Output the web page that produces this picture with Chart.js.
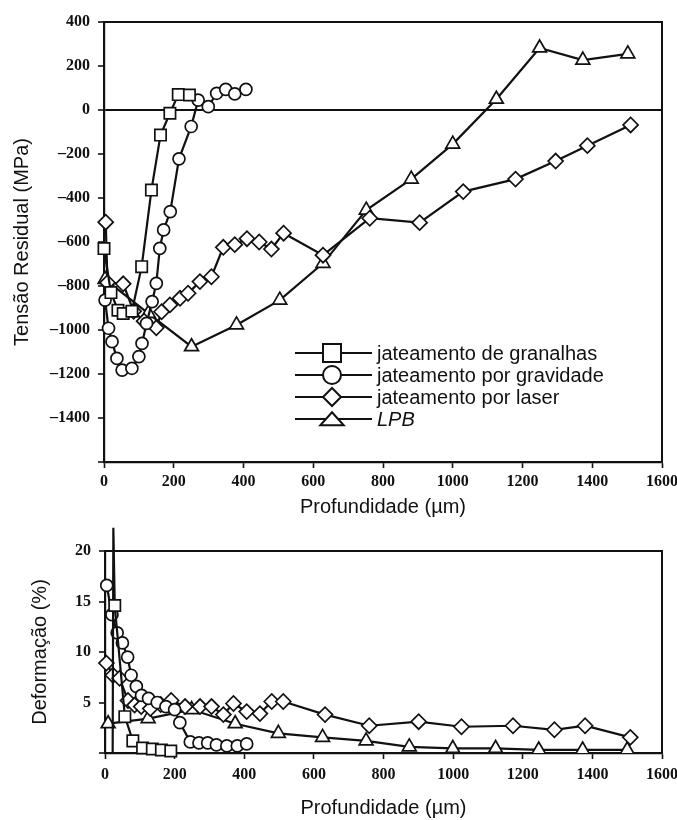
<!DOCTYPE html>
<html>
<head>
<meta charset="utf-8">
<script src="https://cdn.jsdelivr.net/npm/chart.js@4.4.1/dist/chart.umd.min.js"></script>
<style>
  html, body { margin: 0; padding: 0; background: #fff; }
  #top { position: absolute; left: 0; top: 0; width: 677px; height: 525px; }
  #bottom { position: absolute; left: 0; top: 525px; width: 677px; height: 295px; }
</style>
</head>
<body>
<div id="top"><canvas id="stress"></canvas></div>
<div id="bottom"><canvas id="strain"></canvas></div>
<script>
// series labels and marker shapes
const seriesNames = ["jateamento de granalhas", "jateamento por gravidade", "jateamento por laser", "LPB"];
const markerShapes = ["rect", "circle", "rectRot", "triangle"];
const markerRadius = [8, 6, 7.5, 8];

// top chart: residual stress (MPa) vs depth (um)
const shotDepth = [0, 20, 40, 55, 80, 108, 136, 162, 189, 213, 245];
const shotStress = [-630, -830, -910, -925, -915, -712, -364, -114, -15, 70, 68];

const gravDepth = [3, 13, 23, 37, 52, 80, 100, 109, 122, 138, 150, 160, 171, 190, 215, 250, 270, 299, 323, 349, 375, 407];
const gravStress = [-864, -992, -1053, -1129, -1182, -1174, -1121, -1061, -970, -871, -788, -629, -545, -462, -222, -75, 45, 15, 76, 94, 73, 94];

const laserDepth = [5, 10, 55, 85, 115, 150, 165, 189, 218, 241, 275, 308, 342, 375, 410, 445, 480, 515, 628, 762, 905, 1030, 1180, 1295, 1386, 1510];
const laserStress = [-510, -785, -790, -915, -960, -990, -917, -886, -856, -833, -780, -758, -624, -612, -585, -600, -632, -560, -660, -492, -512, -371, -314, -232, -162, -68];

const lpbDepth = [3, 127, 251, 380, 504, 628, 752, 881, 1000, 1125, 1249, 1373, 1502];
const lpbStress = [-770, -924, -1076, -977, -864, -697, -455, -314, -155, 49, 282, 227, 255];

// bottom chart: deformation (%) vs depth (um)
const shotDepthD = [22, 24, 28, 57, 80, 108, 136, 162, 189];
const shotDef = [0, 22.3, 14.6, 3.6, 1.2, 0.5, 0.4, 0.3, 0.2];

const gravDepthD = [5, 20, 35, 50, 65, 75, 90, 105, 125, 150, 175, 200, 215, 245, 270, 295, 320, 350, 380, 407];
const gravDef = [16.6, 13.7, 11.9, 10.9, 9.5, 7.7, 6.6, 5.7, 5.4, 5.0, 4.6, 4.3, 3.0, 1.1, 1.0, 1.0, 0.8, 0.7, 0.7, 0.9];

const laserDepthD = [4, 23, 42, 66, 85, 104, 130, 160, 190, 230, 273, 306, 340, 369, 407, 445, 479, 512, 632, 759, 901, 1024, 1172, 1291, 1379, 1509];
const laserDef = [8.9, 7.7, 7.4, 5.2, 4.75, 4.6, 4.4, 4.8, 5.2, 4.6, 4.6, 4.6, 3.8, 4.9, 4.1, 3.9, 5.1, 5.1, 3.8, 2.7, 3.1, 2.6, 2.7, 2.3, 2.7, 1.55];

const lpbDepthD = [9, 124, 249, 374, 498, 625, 750, 874, 999, 1122, 1246, 1372, 1500];
const lpbDef = [2.9, 3.4, 4.3, 2.9, 1.95, 1.55, 1.2, 0.6, 0.45, 0.45, 0.3, 0.3, 0.3];

const depthTicks = [0, 200, 400, 600, 800, 1000, 1200, 1400, 1600];

const tickFont = { family: "Liberation Serif", size: 16, weight: "bold" };
const titleFont = { family: "Liberation Sans", size: 20 };

function pairs(xs, ys) {
  return xs.map((x, i) => ({ x: x, y: ys[i] }));
}

function dash(v) {
  return v < 0 ? "\u2013" + Math.abs(v) : String(v);
}

function makeDataset(i, xs, ys, extra) {
  return Object.assign({
    label: seriesNames[i],
    data: pairs(xs, ys),
    showLine: true,
    borderColor: "#111",
    borderWidth: 2.2,
    pointStyle: markerShapes[i],
    pointRadius: markerRadius[i],
    pointBackgroundColor: "#fff",
    pointBorderColor: "#111",
    pointBorderWidth: 1.7,
    clip: false
  }, extra || {});
}

// draws the top and right sides of the plot box
const frame = {
  id: "frame",
  beforeDatasetsDraw(chart) {
    const { ctx, chartArea: a } = chart;
    ctx.save();
    ctx.strokeStyle = "#111";
    ctx.lineWidth = 2;
    ctx.strokeRect(a.left, a.top, a.right - a.left, a.bottom - a.top);
    ctx.restore();
  }
};

function drawMarker(ctx, shape, x, y, r) {
  ctx.beginPath();
  if (shape === "rect") {
    ctx.rect(x - r, y - r, 2 * r, 2 * r);
  } else if (shape === "circle") {
    ctx.arc(x, y, r, 0, Math.PI * 2);
  } else if (shape === "rectRot") {
    ctx.moveTo(x, y - r); ctx.lineTo(x + r, y); ctx.lineTo(x, y + r); ctx.lineTo(x - r, y); ctx.closePath();
  } else {
    ctx.moveTo(x, y - r * 0.75); ctx.lineTo(x + r * 1.3, y + r * 0.7); ctx.lineTo(x - r * 1.3, y + r * 0.7); ctx.closePath();
  }
  ctx.fillStyle = "#fff";
  ctx.fill();
  ctx.stroke();
}

// legend drawn inside the stress plot
const insideLegend = {
  id: "insideLegend",
  afterDatasetsDraw(chart) {
    const ctx = chart.ctx;
    ctx.save();
    chart.data.datasets.forEach((ds, i) => {
      const y = 353 + i * 22;
      ctx.strokeStyle = "#111";
      ctx.lineWidth = 2;
      ctx.beginPath();
      ctx.moveTo(295, y);
      ctx.lineTo(372, y);
      ctx.stroke();
      drawMarker(ctx, ds.pointStyle, 332, y, 9);
      ctx.fillStyle = "#111";
      ctx.font = (i === 3 ? "italic " : "") + "20px 'Liberation Sans'";
      ctx.textBaseline = "middle";
      ctx.fillText(ds.label, 377, y + 1);
    });
    ctx.restore();
  }
};

function makeScales(o) {
  return {
    x: {
      type: "linear",
      min: 0,
      max: 1600,
      afterBuildTicks: (s) => { s.ticks = depthTicks.map(v => ({ value: v })); },
      afterFit: (s) => { s.height = o.xHeight; s.paddingLeft = 0; s.paddingRight = 0; },
      border: { display: true, color: "#111", width: 2.2 },
      grid: { color: "rgba(0,0,0,0)", tickColor: "#111", tickLength: 6, tickWidth: 1.6 },
      ticks: { font: tickFont, color: "#111", padding: o.xTickPad, maxRotation: 0, autoSkip: false, callback: v => String(v) },
      title: { display: true, text: "Profundidade (\u00b5m)", font: titleFont, color: "#111", padding: { top: 0, bottom: o.xTitlePad } }
    },
    y: {
      type: "linear",
      min: o.yMin,
      max: o.yMax,
      afterBuildTicks: (s) => { s.ticks = o.yTicks.map(v => ({ value: v })); },
      afterFit: (s) => { s.width = o.yWidth; s.paddingTop = 0; s.paddingBottom = 0; },
      border: { display: true, color: "#111", width: 2.2 },
      grid: {
        color: (c) => (o.zeroLine && c.tick && c.tick.value === 0 ? "#111" : "rgba(0,0,0,0)"),
        lineWidth: 2,
        tickColor: "#111",
        tickLength: 6,
        tickWidth: 1.6
      },
      ticks: { font: tickFont, color: "#111", padding: 8, autoSkip: false, callback: v => (v === o.yMin ? "" : dash(v)) },
      title: { display: true, text: o.yTitle, font: titleFont, color: "#111", padding: { top: o.yTitlePad, bottom: 0 } }
    }
  };
}

const commonPlugins = {
  legend: { display: false },
  tooltip: { enabled: false }
};

new Chart(document.getElementById("stress"), {
  type: "scatter",
  data: {
    datasets: [
      makeDataset(0, shotDepth, shotStress),
      makeDataset(1, gravDepth, gravStress),
      makeDataset(2, laserDepth, laserStress),
      makeDataset(3, lpbDepth, lpbStress)
    ]
  },
  options: {
    responsive: true,
    maintainAspectRatio: false,
    animation: false,
    layout: { padding: { top: 22, right: 15, left: 0, bottom: 0 } },
    plugins: commonPlugins,
    scales: makeScales({
      yMin: -1600, yMax: 400,
      yTicks: [-1600, -1400, -1200, -1000, -800, -600, -400, -200, 0, 200, 400],
      yTitle: "Tens\u00e3o Residual (MPa)",
      yWidth: 104, xHeight: 63, xTickPad: 4, xTitlePad: 6, yTitlePad: 10, zeroLine: true
    })
  },
  plugins: [frame, insideLegend]
});

const bottomClip = { left: 12, top: false, right: 12, bottom: 0 };

new Chart(document.getElementById("strain"), {
  type: "scatter",
  data: {
    datasets: [
      makeDataset(0, shotDepthD, shotDef, { pointRadius: shotDef.map((v, i) => (i < 2 ? 0 : markerRadius[0])), clip: false }),
      makeDataset(1, gravDepthD, gravDef, { clip: bottomClip }),
      makeDataset(2, laserDepthD, laserDef, { clip: bottomClip }),
      makeDataset(3, lpbDepthD, lpbDef, { clip: bottomClip })
    ]
  },
  options: {
    responsive: true,
    maintainAspectRatio: false,
    animation: false,
    layout: { padding: { top: 26, right: 15, left: 0, bottom: 0 } },
    plugins: commonPlugins,
    scales: makeScales({
      yMin: 0, yMax: 20,
      yTicks: [0, 5, 10, 15, 20],
      yTitle: "Deforma\u00e7\u00e3o (%)",
      yWidth: 105, xHeight: 67, xTickPad: 6, xTitlePad: 0, yTitlePad: 28, zeroLine: false
    })
  },
  plugins: [frame]
});
</script>
</body>
</html>
